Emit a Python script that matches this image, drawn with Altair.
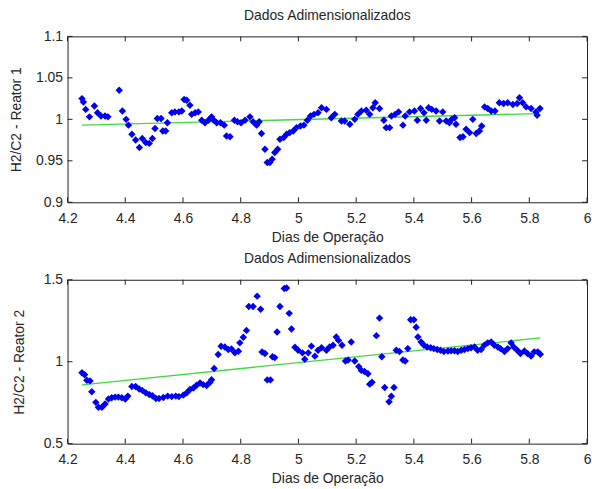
import altair as alt
import pandas as pd

# Reator 1: dimensionless H2/C2 vs. operating day
dias_r1 = [4.250, 4.255, 4.263, 4.276, 4.293, 4.304, 4.316, 4.330, 4.340, 4.379,
           4.390, 4.403, 4.411, 4.423, 4.436, 4.449, 4.459, 4.471, 4.483, 4.494,
           4.503, 4.511, 4.524, 4.530, 4.540, 4.546, 4.561, 4.572, 4.586, 4.596,
           4.604, 4.613, 4.624, 4.630, 4.642, 4.653, 4.665, 4.676, 4.688, 4.699,
           4.707, 4.717, 4.730, 4.743, 4.751, 4.763, 4.778, 4.789, 4.801, 4.815,
           4.832, 4.843, 4.855, 4.864, 4.872, 4.884, 4.892, 4.901, 4.909, 4.918,
           4.928, 4.936, 4.949, 4.959, 4.970, 4.982, 4.993, 5.007, 5.019, 5.031,
           5.042, 5.054,
           5.068, 5.080, 5.097, 5.114, 5.126, 5.149, 5.160, 5.178, 5.195, 5.206,
           5.218, 5.235, 5.247, 5.258, 5.266, 5.281, 5.296, 5.304, 5.316, 5.322,
           5.335, 5.347, 5.362, 5.370, 5.385, 5.402, 5.412, 5.423, 5.435, 5.443,
           5.451, 5.462, 5.477, 5.489, 5.500, 5.512, 5.523, 5.531, 5.541, 5.546,
           5.560, 5.570, 5.581, 5.593, 5.604, 5.616, 5.627, 5.635, 5.645, 5.656,
           5.668, 5.681, 5.696, 5.711, 5.725, 5.743, 5.758, 5.766, 5.777, 5.789,
           5.806, 5.823, 5.827, 5.837]
h2c2_r1 = [1.025, 1.021, 1.012, 1.003, 1.016, 1.008, 1.004, 1.004, 1.003, 1.035,
           1.010, 1.000, 0.993, 0.982, 0.975, 0.966, 0.977, 0.972, 0.971, 0.977,
           0.989, 1.001, 1.001, 0.986, 0.986, 0.996, 1.008, 1.009, 1.009, 1.010,
           1.024, 1.023, 1.017, 1.006, 1.008, 1.009, 0.999, 0.996, 0.999, 1.003,
           0.999, 0.996, 0.996, 0.993, 0.980, 0.979, 0.999, 0.997, 0.996, 0.999,
           1.003, 0.997, 0.993, 0.997, 0.983, 0.964, 0.948, 0.948, 0.952, 0.960,
           0.964, 0.976, 0.978, 0.982, 0.984, 0.986, 0.990, 0.992, 0.993, 0.999,
           1.004, 1.006,
           1.008, 1.014, 1.012, 1.002, 1.006, 0.998, 0.998, 0.994, 1.000, 1.006,
           1.010, 1.011, 1.006, 1.014, 1.020, 1.013, 0.999, 0.990, 0.990, 1.004,
           1.006, 1.009, 0.993, 1.004, 1.009, 1.010, 0.999, 1.013, 1.008, 0.999,
           1.014, 1.012, 1.010, 0.998, 1.009, 0.998, 0.996, 1.000, 1.002, 0.994,
           0.978, 0.979, 0.988, 0.984, 1.000, 0.983, 0.986, 0.992, 1.015, 1.013,
           1.010, 1.010, 1.020, 1.019, 1.020, 1.018, 1.019, 1.026, 1.020, 1.015,
           1.013, 1.009, 1.005, 1.013]

# Reator 2
dias_r2 = [4.250, 4.259, 4.267, 4.278, 4.284, 4.298, 4.307, 4.319, 4.330, 4.342,
           4.353, 4.365, 4.376, 4.388, 4.400, 4.409, 4.423, 4.436, 4.448, 4.459,
           4.471, 4.483, 4.494, 4.506, 4.517, 4.532, 4.547, 4.561, 4.575, 4.586,
           4.601, 4.613, 4.624, 4.636, 4.647, 4.659, 4.670, 4.682, 4.693, 4.699,
           4.708, 4.722, 4.732, 4.745, 4.757, 4.768, 4.780, 4.792, 4.797, 4.809,
           4.820, 4.828, 4.843, 4.857, 4.869, 4.874, 4.884, 4.892, 4.903, 4.910,
           4.918, 4.926, 4.936, 4.951, 4.959, 4.968, 4.976, 4.988, 4.999, 5.014,
           5.022, 5.034, 5.045, 5.057,
           5.068, 5.080, 5.097, 5.108, 5.120, 5.131, 5.139, 5.151, 5.163, 5.172,
           5.183, 5.195, 5.209, 5.218, 5.229, 5.241, 5.247, 5.255, 5.270, 5.281,
           5.289, 5.299, 5.314, 5.322, 5.331, 5.339, 5.350, 5.362, 5.370, 5.379,
           5.389, 5.400, 5.408, 5.414, 5.425, 5.435, 5.446, 5.458, 5.469, 5.481,
           5.492, 5.504, 5.518, 5.529, 5.541, 5.552, 5.564, 5.575, 5.587, 5.598,
           5.610, 5.621, 5.633, 5.644, 5.656, 5.668, 5.679, 5.691, 5.700, 5.714,
           5.725, 5.737, 5.746, 5.758, 5.769, 5.783, 5.794, 5.806, 5.817, 5.829,
           5.838]
h2c2_r2 = [0.933, 0.920, 0.887, 0.883, 0.817, 0.752, 0.722, 0.722, 0.742, 0.772,
           0.780, 0.784, 0.784, 0.780, 0.772, 0.790, 0.849, 0.849, 0.833, 0.825,
           0.810, 0.800, 0.792, 0.776, 0.776, 0.782, 0.790, 0.787, 0.790, 0.787,
           0.796, 0.810, 0.830, 0.840, 0.856, 0.870, 0.860, 0.855, 0.873, 0.890,
           0.958, 1.044, 1.094, 1.090, 1.075, 1.077, 1.055, 1.064, 1.115, 1.149,
           1.191, 1.337, 1.337, 1.400, 1.320, 1.059, 1.050, 0.889, 0.889, 1.030,
           1.025, 1.181, 1.337, 1.447, 1.450, 1.295, 1.200, 1.088, 1.070, 1.054,
           1.015, 1.054, 1.095, 1.034,
           1.070, 1.085, 1.070, 1.090, 1.100, 1.151, 1.130, 1.100, 1.004, 1.010,
           1.120, 1.004, 0.970, 0.947, 0.940, 0.927, 0.863, 0.875, 1.159, 1.266,
           1.030, 0.843, 0.756, 0.789, 0.843, 1.070, 1.062, 1.010, 1.004, 1.080,
           1.256, 1.256, 1.210, 1.151, 1.120, 1.100, 1.090, 1.085, 1.080, 1.075,
           1.070, 1.062, 1.065, 1.067, 1.067, 1.062, 1.070, 1.074, 1.080, 1.085,
           1.090, 1.070, 1.074, 1.100, 1.115, 1.120, 1.100, 1.090, 1.080, 1.062,
           1.080, 1.115, 1.090, 1.070, 1.050, 1.065, 1.050, 1.035, 1.060, 1.060,
           1.045]

# Linear trend lines (end points)
fit_dias_r1 = [4.250, 5.830]
fit_r1 = [0.993, 1.007]
fit_dias_r2 = [4.250, 5.838]
fit_r2 = [0.859, 1.145]

x_ticks = [4.2, 4.4, 4.6, 4.8, 5.0, 5.2, 5.4, 5.6, 5.8, 6.0]
y_ticks_r1 = [0.9, 0.95, 1.0, 1.05, 1.1]
y_ticks_r2 = [0.5, 1.0, 1.5]

FONT = "Liberation Sans"
TXT = "#262626"
W = 523
TICK = 5


def panel(dias, vals, fit_d, fit_v, y_dom, y_ticks, y_title, H, title_pad):
    x_enc = alt.X(
        "dias:Q",
        scale=alt.Scale(domain=[4.2, 6.0], nice=False, zero=False),
        axis=alt.Axis(values=x_ticks, format="~g", title="Dias de Operação",
                      ticks=False, domain=False, grid=False,
                      labelPadding=9, titlePadding=5,
                      labelFlush=False),
    )
    y_enc = alt.Y(
        "v:Q",
        scale=alt.Scale(domain=y_dom, nice=False, zero=False),
        axis=alt.Axis(values=y_ticks, format="~g", title=y_title,
                      ticks=False, domain=False, grid=False,
                      labelPadding=5, titlePadding=title_pad,
                      labelFlush=False),
    )
    pts = pd.DataFrame({"dias": dias, "v": vals})
    fit = pd.DataFrame({"dias": fit_d, "v": fit_v})
    xt = pd.DataFrame({"dias": x_ticks})
    yt = pd.DataFrame({"v": y_ticks})

    points = alt.Chart(pts).mark_point(
        shape="diamond", filled=True, size=56, color="#0000ee", opacity=1
    ).encode(x=x_enc, y=y_enc)
    trend = alt.Chart(fit).mark_line(color="#44d844", strokeWidth=1.3).encode(
        x=x_enc, y=y_enc
    )
    # inward tick marks on all four sides
    xb = alt.Chart(xt).mark_rule(color="#222", strokeWidth=1).encode(
        x=x_enc, y=alt.value(H), y2=alt.value(H - TICK))
    xtop = alt.Chart(xt).mark_rule(color="#222", strokeWidth=1).encode(
        x=x_enc, y=alt.value(0), y2=alt.value(TICK))
    yl = alt.Chart(yt).mark_rule(color="#222", strokeWidth=1).encode(
        y=y_enc, x=alt.value(0), x2=alt.value(TICK))
    yr = alt.Chart(yt).mark_rule(color="#222", strokeWidth=1).encode(
        y=y_enc, x=alt.value(W), x2=alt.value(W - TICK))

    return alt.layer(xb, xtop, yl, yr, trend, points).properties(
        width=W, height=H,
        title=alt.TitleParams("Dados Adimensionalizados", fontSize=14,
                              font=FONT, color=TXT, fontWeight="normal",
                              offset=7),
    )


top = panel(dias_r1, h2c2_r1, fit_dias_r1, fit_r1, [0.9, 1.1], y_ticks_r1,
            "H2/C2 - Reator 1", 167, 12)
bottom = panel(dias_r2, h2c2_r2, fit_dias_r2, fit_r2, [0.5, 1.5], y_ticks_r2,
               "H2/C2 - Reator 2", 165, 17)

chart = alt.vconcat(top, bottom, spacing=6).properties(
    padding={"left": 9, "top": 6, "right": 0, "bottom": 0},
    background="white",
).configure_view(
    stroke="#222", strokeWidth=1
).configure_axis(
    labelFont=FONT, titleFont=FONT, labelFontSize=14, titleFontSize=14,
    labelColor=TXT, titleColor=TXT, titleFontWeight="normal",
)

chart.save("out.html", embed_options={"renderer": "svg", "actions": False})
